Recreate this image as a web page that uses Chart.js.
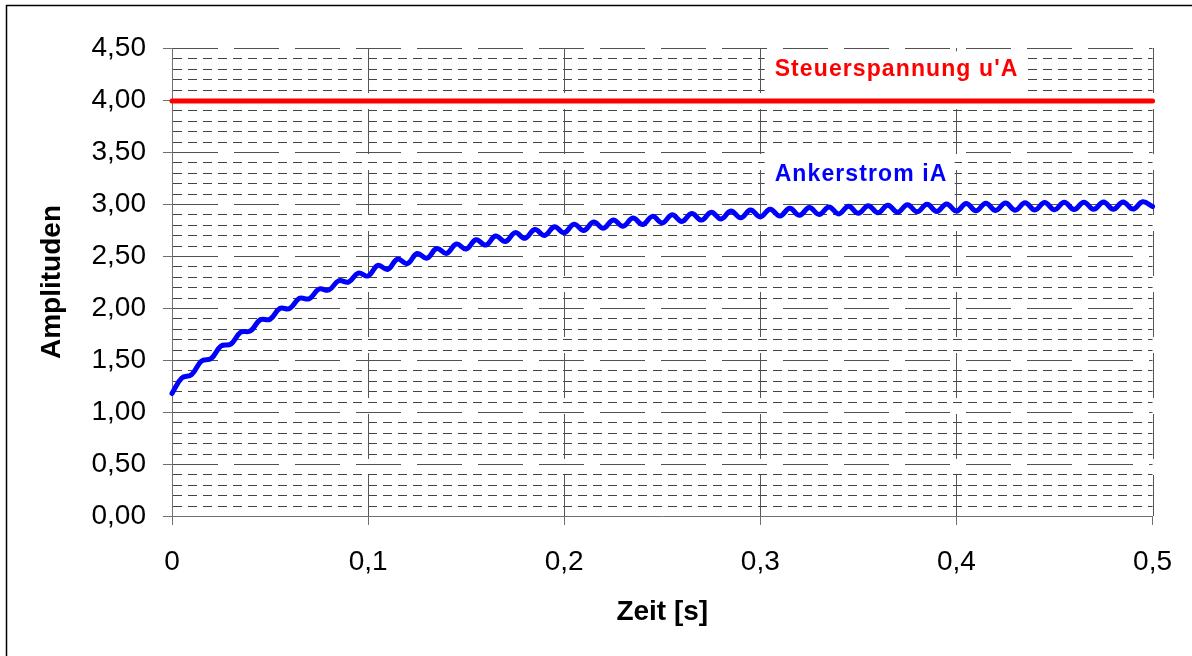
<!DOCTYPE html>
<html>
<head>
<meta charset="utf-8">
<script src="https://cdn.jsdelivr.net/npm/chart.js@4/dist/chart.umd.min.js"></script>
<style>
  html, body { margin: 0; padding: 0; background: #fff; }
  #wrap { width: 1192px; height: 656px; position: relative; }
</style>
</head>
<body>
<div id="wrap"><canvas id="chart" width="1192" height="656"></canvas></div>
<script>
// Zeitachse in Sekunden (Messpunkte alle 5 ms)
const ankerTime = [
  0.000, 0.005, 0.010, 0.015, 0.020, 0.025, 0.030, 0.035, 0.040, 0.045,
  0.050, 0.055, 0.060, 0.065, 0.070, 0.075, 0.080, 0.085, 0.090, 0.095,
  0.100, 0.105, 0.110, 0.115, 0.120, 0.125, 0.130, 0.135, 0.140, 0.145,
  0.150, 0.155, 0.160, 0.165, 0.170, 0.175, 0.180, 0.185, 0.190, 0.195,
  0.200, 0.205, 0.210, 0.215, 0.220, 0.225, 0.230, 0.235, 0.240, 0.245,
  0.250, 0.255, 0.260, 0.265, 0.270, 0.275, 0.280, 0.285, 0.290, 0.295,
  0.300, 0.305, 0.310, 0.315, 0.320, 0.325, 0.330, 0.335, 0.340, 0.345,
  0.350, 0.355, 0.360, 0.365, 0.370, 0.375, 0.380, 0.385, 0.390, 0.395,
  0.400, 0.405, 0.410, 0.415, 0.420, 0.425, 0.430, 0.435, 0.440, 0.445,
  0.450, 0.455, 0.460, 0.465, 0.470, 0.475, 0.480, 0.485, 0.490, 0.495,
  0.500
];

// Ankerstrom iA mit Welligkeit
const ankerStrom = [
  1.180, 1.327, 1.360, 1.489, 1.514, 1.635, 1.653, 1.767, 1.779, 1.887,
  1.892, 1.995, 1.995, 2.093, 2.089, 2.182, 2.173, 2.262, 2.249, 2.335,
  2.308, 2.410, 2.371, 2.470, 2.427, 2.524, 2.479, 2.572, 2.525, 2.616,
  2.567, 2.656, 2.605, 2.692, 2.639, 2.725, 2.670, 2.754, 2.698, 2.781,
  2.723, 2.805, 2.746, 2.827, 2.767, 2.847, 2.786, 2.865, 2.803, 2.881,
  2.818, 2.896, 2.832, 2.909, 2.845, 2.921, 2.856, 2.932, 2.867, 2.942,
  2.876, 2.950, 2.885, 2.958, 2.892, 2.966, 2.899, 2.972, 2.905, 2.978,
  2.911, 2.984, 2.916, 2.989, 2.921, 2.993, 2.925, 2.997, 2.929, 3.001,
  2.932, 3.004, 2.935, 3.007, 2.938, 3.009, 2.941, 3.012, 2.943, 3.014,
  2.945, 3.016, 2.947, 3.018, 2.949, 3.019, 2.950, 3.020, 2.951, 3.021,
  2.975
];

// Steuerspannung u'A (konstant)
const steuerTime = [0, 0.5];
const steuerSpannung = [3.99, 3.99];

const seriesNames = ["Steuerspannung u'A", "Ankerstrom iA"];
const seriesColors = ["#ff0000", "#0000ff"];

const FONT = "'Liberation Sans', Arial, sans-serif";

// Beschriftungen direkt im Diagramm
const lineLabels = [
  { text: seriesNames[0], color: seriesColors[0], x: 0.3073, y: 4.295, box: [-10, -18, 262, 43] },
  { text: seriesNames[1], color: seriesColors[1], x: 0.3073, y: 3.285, box: [-10, -24, 190, 50] }
];

function toPoints(xs, ys) {
  return xs.map((x, i) => ({ x: x, y: ys[i] }));
}

// Rahmen, Achsentitel und gestricheltes Raster
const excelLook = {
  id: "excelLook",
  beforeDraw(chart) {
    const ctx = chart.ctx;
    ctx.save();
    ctx.fillStyle = "#fff";
    ctx.fillRect(0, 0, chart.width, chart.height);
    ctx.strokeStyle = "#000";
    ctx.lineWidth = 1.5;
    ctx.beginPath();
    ctx.moveTo(6.5, 656);
    ctx.lineTo(6.5, 5.5);
    ctx.lineTo(1192, 5.5);
    ctx.stroke();

    ctx.fillStyle = "#000";
    ctx.font = "bold 28px " + FONT;
    ctx.textAlign = "center";
    ctx.textBaseline = "middle";
    const area = chart.chartArea;
    ctx.fillText("Zeit [s]", (area.left + area.right) / 2, 612);
    ctx.translate(52, (area.top + area.bottom) / 2);
    ctx.rotate(-Math.PI / 2);
    ctx.fillText("Amplituden", 0, 0);
    ctx.restore();
  },
  beforeDatasetsDraw(chart) {
    const ctx = chart.ctx;
    const xs = chart.scales.x;
    const ys = chart.scales.y;
    const area = chart.chartArea;
    ctx.save();
    ctx.lineWidth = 1;

    // horizontale Linien alle 0,1
    for (let i = 1; i <= 45; i++) {
      const py = Math.round(ys.getPixelForValue(i / 10)) + 0.5;
      const major = i % 5 === 0;
      ctx.strokeStyle = major ? "#505050" : "#444";
      ctx.setLineDash(major ? [45, 16] : [9, 6]);
      ctx.beginPath();
      ctx.moveTo(area.left + 1, py);
      ctx.lineTo(area.right, py);
      ctx.stroke();
    }

    // vertikale Linien alle 0,1 s
    ctx.strokeStyle = "#555";
    ctx.setLineDash([45, 16]);
    for (let i = 1; i <= 5; i++) {
      const px = Math.round(xs.getPixelForValue(i / 10)) + 0.5;
      ctx.beginPath();
      ctx.moveTo(px, area.top);
      ctx.lineTo(px, area.bottom);
      ctx.stroke();
    }
    ctx.setLineDash([]);

    // weisse Hinterlegung der Beschriftungen
    ctx.fillStyle = "#fff";
    lineLabels.forEach(l => {
      const px = xs.getPixelForValue(l.x);
      const py = ys.getPixelForValue(l.y);
      ctx.fillRect(px + l.box[0], py + l.box[1], l.box[2], l.box[3]);
    });
    ctx.restore();
  },
  afterDatasetsDraw(chart) {
    const ctx = chart.ctx;
    const xs = chart.scales.x;
    const ys = chart.scales.y;
    ctx.save();
    ctx.font = "bold 23px " + FONT;
    ctx.letterSpacing = "1.1px";
    ctx.textAlign = "left";
    ctx.textBaseline = "middle";
    lineLabels.forEach(l => {
      ctx.fillStyle = l.color;
      ctx.fillText(l.text, xs.getPixelForValue(l.x), ys.getPixelForValue(l.y));
    });
    ctx.restore();
  }
};

new Chart(document.getElementById("chart"), {
  type: "line",
  data: {
    datasets: [
      {
        label: seriesNames[0],
        data: toPoints(steuerTime, steuerSpannung),
        borderColor: seriesColors[0],
        borderWidth: 5,
        borderCapStyle: "round",
        pointRadius: 0,
        tension: 0,
        clip: 8
      },
      {
        label: seriesNames[1],
        data: toPoints(ankerTime, ankerStrom),
        borderColor: seriesColors[1],
        borderWidth: 5,
        borderCapStyle: "round",
        borderJoinStyle: "round",
        pointRadius: 0,
        tension: 0.4,
        clip: 8
      }
    ]
  },
  options: {
    responsive: false,
    animation: false,
    events: [],
    layout: { padding: { left: 0, top: 48, right: 39, bottom: 0 } },
    plugins: {
      legend: { display: false },
      tooltip: { enabled: false }
    },
    scales: {
      x: {
        type: "linear",
        min: 0,
        max: 0.5,
        afterFit: s => { s.height = 140; },
        grid: { drawOnChartArea: false, drawTicks: true, tickLength: 9, color: "#707070" },
        border: { display: true, color: "#707070", width: 1 },
        ticks: {
          stepSize: 0.1,
          padding: 20,
          color: "#000",
          font: { family: FONT, size: 28 },
          maxRotation: 0,
          callback: v => v === 0 ? "0" : v.toFixed(1).replace(".", ",")
        }
      },
      y: {
        min: 0,
        max: 4.5,
        afterFit: s => { s.width = 172; },
        grid: { drawOnChartArea: false, drawTicks: true, tickLength: 9, color: "#707070" },
        border: { display: true, color: "#707070", width: 1 },
        ticks: {
          stepSize: 0.5,
          padding: 17,
          color: "#000",
          font: { family: FONT, size: 28 },
          callback: v => v.toFixed(2).replace(".", ",")
        }
      }
    }
  },
  plugins: [excelLook]
});
</script>
</body>
</html>
